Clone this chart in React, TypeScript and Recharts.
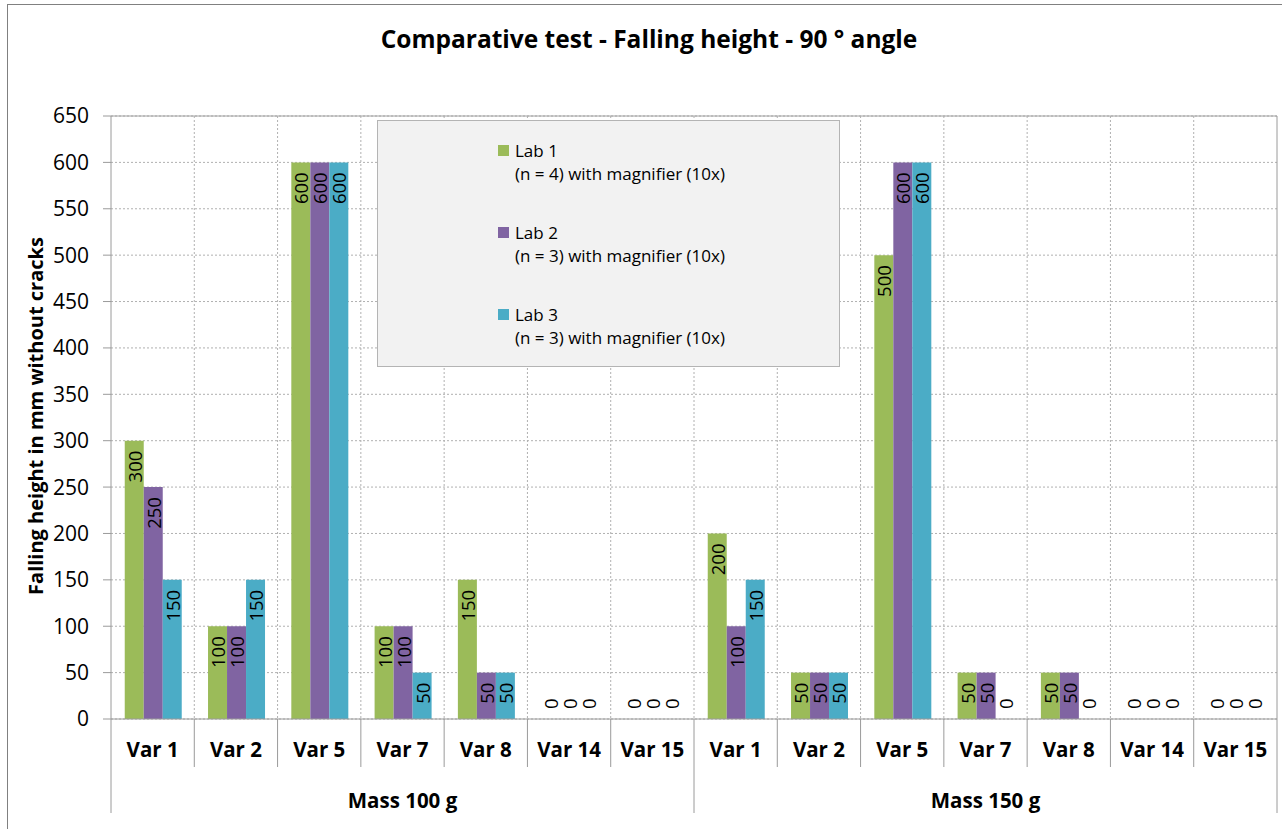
import React from 'react';
import { BarChart, Bar, XAxis, YAxis, CartesianGrid, Legend, LabelList, ReferenceLine } from 'recharts';

const groups = ['Mass 100 g', 'Mass 150 g'];
const variants = ['Var 1', 'Var 2', 'Var 5', 'Var 7', 'Var 8', 'Var 14', 'Var 15'];
const lab1 = [300, 100, 600, 100, 150, 0, 0, 200, 50, 500, 50, 50, 0, 0];
const lab2 = [250, 100, 600, 100, 50, 0, 0, 100, 50, 600, 50, 50, 0, 0];
const lab3 = [150, 150, 600, 50, 50, 0, 0, 150, 50, 600, 0, 0, 0, 0];
const seriesNames = ['Lab 1', 'Lab 2', 'Lab 3'];
const seriesNotes = ['(n = 4) with magnifier (10x)', '(n = 3) with magnifier (10x)', '(n = 3) with magnifier (10x)'];
const colors = ['#9BBB59', '#8064A2', '#4BACC6'];
const yTicks = [0, 50, 100, 150, 200, 250, 300, 350, 400, 450, 500, 550, 600, 650];

const data = groups.flatMap((g, gi) =>
  variants.map((v, vi) => {
    const i = gi * variants.length + vi;
    return { name: v, group: g, lab1: lab1[i], lab2: lab2[i], lab3: lab3[i] };
  })
);

// chart geometry (chart-local px)
const W = 1275;
const H = 825;
const M = { top: 112, right: 5, left: 0, bottom: 10 };
const Y_AXIS_W = 104;
const X_AXIS_H = 100;
const PLOT_L = M.left + Y_AXIS_W;
const PLOT_W = W - PLOT_L - M.right;
const PLOT_B = H - M.bottom - X_AXIS_H;
const BAND = PLOT_W / data.length;

const AxisTick = (props: any) => {
  const { payload } = props;
  const idx = payload.index;
  const cx = payload.coordinate;
  const left = cx - BAND / 2;
  const isGroupStart = idx % variants.length === 0;
  return (
    <g>
      {idx > 0 && (
        <line x1={left} x2={left} y1={M.top} y2={PLOT_B} stroke="#B0B0B0" strokeDasharray="2 2" />
      )}
      <line x1={left} x2={left} y1={PLOT_B} y2={PLOT_B + (isGroupStart ? 94 : 48)} stroke="#9a9a9a" />
      {idx === data.length - 1 && (
        <line x1={left + BAND} x2={left + BAND} y1={M.top} y2={PLOT_B + 94} stroke="#9a9a9a" />
      )}
      <text x={cx} y={PLOT_B + 30} textAnchor="middle" dominantBaseline="central" fontSize={20.5} fontWeight="bold" fill="#000">
        {payload.value}
      </text>
      {idx % variants.length === 3 && (
        <text x={cx} y={PLOT_B + 81} textAnchor="middle" dominantBaseline="central" fontSize={20.5} fontWeight="bold" fill="#000">
          {groups[Math.floor(idx / variants.length)]}
        </text>
      )}
    </g>
  );
};

const BarLabel = (props: any) => {
  const { x, y, width, value } = props;
  const cx = x + width / 2;
  const zero = Number(value) === 0;
  const ty = zero ? y - 10 : y + 10;
  return (
    <text
      x={cx}
      y={ty}
      transform={`rotate(-90 ${cx} ${ty})`}
      textAnchor={zero ? 'start' : 'end'}
      dominantBaseline="central"
      fontSize={18.5}
      fill="#000"
    >
      {String(value)}
    </text>
  );
};

const LegendBox = () => (
  <div
    style={{
      width: 463,
      height: 247,
      boxSizing: 'border-box',
      background: '#F2F2F2',
      border: '1px solid #B4B4B4',
      position: 'relative',
    }}
  >
    {seriesNames.map((n, i) => (
      <div key={n} style={{ position: 'absolute', left: 120, top: 18 + i * 82, fontSize: 17, lineHeight: '23px', color: '#000' }}>
        <div style={{ display: 'flex', alignItems: 'center' }}>
          <span style={{ width: 11, height: 11, background: colors[i], display: 'inline-block', marginRight: 6 }} />
          <span>{n}</span>
        </div>
        <div style={{ paddingLeft: 17, whiteSpace: 'nowrap' }}>{seriesNotes[i]}</div>
      </div>
    ))}
  </div>
);

// tiny minimum so that zero-valued bars still get their label
const zeroMin = (v: any) => (Number(v) === 0 ? 0.01 : 0);

export default function App() {
  return (
    <div
      style={{
        position: 'absolute',
        left: 7,
        top: 4,
        width: W,
        height: H,
        fontFamily: '"Open Sans", sans-serif',
        background: '#fff',
        borderLeft: '1px solid #808080',
        borderTop: '1px solid #808080',
        boxSizing: 'border-box',
        overflow: 'hidden',
      }}
    >
      <div style={{ position: 'absolute', left: -1, top: -1 }}>
        <BarChart width={W} height={H} data={data} margin={M} barCategoryGap="16.5%" barGap={0}>
          <CartesianGrid vertical={false} stroke="#B0B0B0" strokeDasharray="2 2" />
          <ReferenceLine y={650} stroke="#A0A0A0" />
          <YAxis
            width={Y_AXIS_W}
            domain={[0, 650]}
            ticks={yTicks}
            interval={0}
            tickSize={8}
            tickMargin={14}
            stroke="#9a9a9a"
            tick={{ fill: '#000', fontSize: 21 }}
          />
          <XAxis
            dataKey="name"
            height={X_AXIS_H}
            interval={0}
            tickLine={false}
            stroke="#9a9a9a"
            tick={<AxisTick />}
          />
          <Legend
            layout="vertical"
            align="center"
            verticalAlign="middle"
            wrapperStyle={{ left: 370, top: 116, width: 463, height: 247 }}
            content={() => <LegendBox />}
          />
          <Bar dataKey="lab1" name={seriesNames[0]} fill={colors[0]} minPointSize={zeroMin} isAnimationActive={false}>
            <LabelList dataKey="lab1" content={<BarLabel />} />
          </Bar>
          <Bar dataKey="lab2" name={seriesNames[1]} fill={colors[1]} minPointSize={zeroMin} isAnimationActive={false}>
            <LabelList dataKey="lab2" content={<BarLabel />} />
          </Bar>
          <Bar dataKey="lab3" name={seriesNames[2]} fill={colors[2]} minPointSize={zeroMin} isAnimationActive={false}>
            <LabelList dataKey="lab3" content={<BarLabel />} />
          </Bar>
        </BarChart>
        <svg width={W} height={H} style={{ position: 'absolute', left: 0, top: 0, pointerEvents: 'none' }}>
          <text x={642} y={34} textAnchor="middle" dominantBaseline="central" fontSize={24.5} fontWeight="bold" fill="#000">
            Comparative test - Falling height - 90 ° angle
          </text>
          <text
            x={28}
            y={412}
            transform="rotate(-90 28 412)"
            textAnchor="middle"
            dominantBaseline="central"
            fontSize={20}
            fontWeight="bold"
            fill="#000"
          >
            Falling height in mm without cracks
          </text>
        </svg>
      </div>
    </div>
  );
}
